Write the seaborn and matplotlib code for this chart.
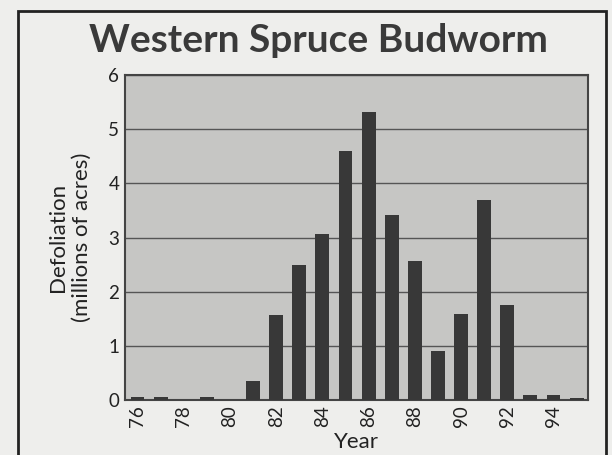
import pandas as pd
import seaborn as sns
import matplotlib.pyplot as plt
from matplotlib.patches import Rectangle

years = list(range(76, 96))
defoliation = [0.06, 0.06, 0.0, 0.06, 0.0, 0.35, 1.57, 2.49, 3.06, 4.6,
               5.31, 3.42, 2.57, 0.9, 1.58, 3.7, 1.75, 0.1, 0.1, 0.03]
tick_years = list(range(76, 96, 2))

df = pd.DataFrame({'Year': [str(y) for y in years], 'Defoliation': defoliation})

sns.set_style('white')
plt.rcParams['font.family'] = ['Lato', 'DejaVu Sans']

fig = plt.figure(figsize=(6.12, 4.55), dpi=100, facecolor='#eeeeec')
ax = fig.add_axes([0.204, 0.121, 0.757, 0.714])
ax.set_facecolor('#c6c6c4')

sns.barplot(data=df, x='Year', y='Defoliation', color='#383838', width=0.6,
            saturation=1, linewidth=0, ax=ax, zorder=3)

ax.set_xlim(-0.55, 19.5)
ax.set_ylim(0, 6)
ax.set_yticks(range(0, 7))
ax.yaxis.grid(True, color='#555555', linewidth=1.0, zorder=1)
ax.set_axisbelow(True)
ax.set_xticks([years.index(y) for y in tick_years])
ax.set_xticklabels([str(y) for y in tick_years], rotation=90)
ax.tick_params(axis='both', labelsize=13.5, colors='#222222', length=0, pad=4)

for s in ax.spines.values():
    s.set_color('#444444')
    s.set_linewidth(1.5)

ax.set_xlabel('Year', fontsize=16, color='#222222')
ax.xaxis.set_label_coords(0.5, -0.098)
ax.set_ylabel('Defoliation\n(millions of acres)', fontsize=16, color='#222222',
              linespacing=1.25, labelpad=12)

fig.text(0.52, 0.91, 'Western Spruce Budworm', ha='center', va='center',
         fontsize=28, fontweight='bold', color='#3a3a3a')

fig.patches.append(Rectangle((0.03, -0.01), 0.96, 0.985, transform=fig.transFigure,
                             fill=False, edgecolor='#222222', linewidth=2))

fig.savefig('out.png', dpi=100, facecolor=fig.get_facecolor())
